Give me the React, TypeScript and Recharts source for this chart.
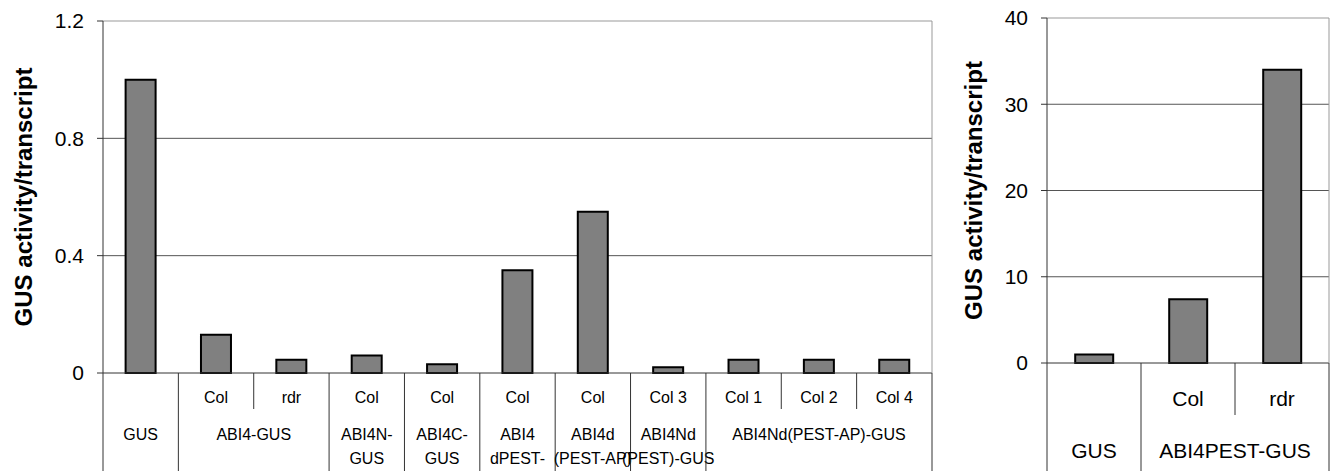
import React from "react";
import { BarChart, Bar, XAxis, YAxis, CartesianGrid, ReferenceLine } from "recharts";

const FONT = "Arial, 'Liberation Sans', sans-serif";

// left panel: GUS fusions in Col / rdr backgrounds
const leftSubLabels = ["", "Col", "rdr", "Col", "Col", "Col", "Col", "Col 3", "Col 1", "Col 2", "Col 4"];
const leftValues = [1.0, 0.13, 0.045, 0.06, 0.03, 0.35, 0.55, 0.02, 0.045, 0.045, 0.045];
const leftGroupLabels = [
    ["GUS"],
    ["ABI4-GUS"],
    ["ABI4N-", "GUS"],
    ["ABI4C-", "GUS"],
    ["ABI4", "dPEST-"],
    ["ABI4d", "(PEST-AP)"],
    ["ABI4Nd", "(PEST)-GUS"],
    ["ABI4Nd(PEST-AP)-GUS"],
];
const leftGroupSizes = [1, 2, 1, 1, 1, 1, 1, 3];
const leftTicks = [0, 0.4, 0.8, 1.2];

// right panel: ABI4PEST-GUS
const rightSubLabels = ["", "Col", "rdr"];
const rightValues = [1, 7.4, 34];
const rightGroupLabels = [["GUS"], ["ABI4PEST-GUS"]];
const rightGroupSizes = [1, 2];
const rightTicks = [0, 10, 20, 30, 40];

const yTitle = "GUS activity/transcript";

const toRows = (subs: string[], values: number[]) =>
    subs.map((sub, i) => ({ key: String(i), sub, value: values[i] }));

interface AxisLayout {
    band: number;
    plotTop: number;
    axisY: number;
    bottom: number;
    subY: number;
    dividerY: number;
    groupY: number;
    lineGap: number;
    fontSize: number;
}

// two-row category axis: sub label on top, group label spanning its members below
function makeCategoryTick(subs: string[], groups: string[][], sizes: number[], L: AxisLayout) {
    const info: { g: number; k: number; n: number }[] = [];
    sizes.forEach((n, g) => {
        for (let k = 0; k < n; k++) info.push({ g, k, n });
    });
    const last = subs.length - 1;
    return (props: any) => {
        const i = props.index ?? props.payload?.index ?? 0;
        const x = props.x;
        const { g, k, n } = info[i];
        const left = x - L.band / 2;
        const right = x + L.band / 2;
        const txt = { fontFamily: FONT, fontSize: L.fontSize, fill: "#000" };
        return (
            <g>
                {subs[i] && (
                    <text x={x} y={L.subY} textAnchor="middle" dominantBaseline="central" style={txt}>
                        {subs[i]}
                    </text>
                )}
                {k < n - 1 && (
                    <line x1={right} x2={right} y1={L.axisY} y2={L.dividerY} stroke="#333" />
                )}
                {k === 0 && <line x1={left} x2={left} y1={L.axisY} y2={L.bottom} stroke="#333" />}
                {k === 0 &&
                    groups[g].map((t, j) => (
                        <text
                            key={j}
                            x={left + (n * L.band) / 2}
                            y={L.groupY + j * L.lineGap}
                            textAnchor="middle"
                            dominantBaseline="central"
                            style={txt}
                        >
                            {t}
                        </text>
                    ))}
                {i === last && (
                    <>
                        <line x1={right} x2={right} y1={L.axisY} y2={L.bottom} stroke="#333" />
                        <line x1={right} x2={right} y1={L.plotTop} y2={L.axisY} stroke="#999" />
                    </>
                )}
            </g>
        );
    };
}

function VerticalTitle({ cx, cy }: { cx: number; cy: number }) {
    return (
        <text
            x={cx}
            y={cy}
            transform={`rotate(-90 ${cx} ${cy})`}
            textAnchor="middle"
            dominantBaseline="central"
            style={{ fontFamily: FONT, fontSize: 24, fontWeight: "bold", fill: "#000" }}
        >
            {yTitle}
        </text>
    );
}

const H = 471;

// left chart geometry
const L_W = 945;
const L_YAXIS = 103;
const L_TOP = 21;
const L_RIGHT = 13;
const L_XAXIS_H = 98;
const leftLayout: AxisLayout = {
    band: (L_W - L_YAXIS - L_RIGHT) / leftValues.length,
    plotTop: L_TOP,
    axisY: H - L_XAXIS_H,
    bottom: H,
    subY: H - L_XAXIS_H + 24,
    dividerY: H - L_XAXIS_H + 36,
    groupY: H - L_XAXIS_H + 61,
    lineGap: 24,
    fontSize: 16,
};

// right chart geometry
const R_W = 386;
const R_YAXIS = 102;
const R_TOP = 18;
const R_RIGHT = 2;
const R_XAXIS_H = 108;
const rightLayout: AxisLayout = {
    band: (R_W - R_YAXIS - R_RIGHT) / rightValues.length,
    plotTop: R_TOP,
    axisY: H - R_XAXIS_H,
    bottom: H,
    subY: H - R_XAXIS_H + 35,
    dividerY: H - R_XAXIS_H + 52,
    groupY: H - R_XAXIS_H + 87,
    lineGap: 24,
    fontSize: 21,
};

const leftTick = makeCategoryTick(leftSubLabels, leftGroupLabels, leftGroupSizes, leftLayout);
const rightTick = makeCategoryTick(rightSubLabels, rightGroupLabels, rightGroupSizes, rightLayout);

export default function App() {
    const leftData = toRows(leftSubLabels, leftValues);
    const rightData = toRows(rightSubLabels, rightValues);
    return (
        <div style={{ position: "absolute", left: 0, top: 0, width: 1331, height: H, background: "#fff" }}>
            <div style={{ position: "absolute", left: 0, top: 0 }}>
                <BarChart
                    width={L_W}
                    height={H}
                    data={leftData}
                    margin={{ top: L_TOP, right: L_RIGHT, bottom: 0, left: 0 }}
                    barCategoryGap="30%"
                >
                    <CartesianGrid vertical={false} horizontalValues={[0.4, 0.8]} stroke="#555" />
                    <ReferenceLine y={1.2} stroke="#999" />
                    <XAxis
                        dataKey="key"
                        height={L_XAXIS_H}
                        interval={0}
                        tickSize={0}
                        tickMargin={0}
                        tickLine={false}
                        axisLine={{ stroke: "#333" }}
                        tick={leftTick}
                    />
                    <YAxis
                        width={L_YAXIS}
                        domain={[0, 1.2]}
                        ticks={leftTicks}
                        interval={0}
                        tickSize={6}
                        tickMargin={13}
                        axisLine={{ stroke: "#333" }}
                        tickLine={{ stroke: "#333" }}
                        tick={{ fontFamily: FONT, fontSize: 21, fill: "#000" }}
                        label={{ content: () => <VerticalTitle cx={23} cy={(L_TOP + H - L_XAXIS_H) / 2} /> }}
                    />
                    <Bar dataKey="value" fill="#808080" stroke="#000" strokeWidth={2} isAnimationActive={false} />
                </BarChart>
            </div>
            <div style={{ position: "absolute", left: L_W, top: 0 }}>
                <BarChart
                    width={R_W}
                    height={H}
                    data={rightData}
                    margin={{ top: R_TOP, right: R_RIGHT, bottom: 0, left: 0 }}
                    barCategoryGap="30%"
                >
                    <CartesianGrid vertical={false} horizontalValues={[10, 20, 30]} stroke="#555" />
                    <ReferenceLine y={40} stroke="#999" />
                    <XAxis
                        dataKey="key"
                        height={R_XAXIS_H}
                        interval={0}
                        tickSize={0}
                        tickMargin={0}
                        tickLine={false}
                        axisLine={{ stroke: "#333" }}
                        tick={rightTick}
                    />
                    <YAxis
                        width={R_YAXIS}
                        domain={[0, 40]}
                        ticks={rightTicks}
                        interval={0}
                        tickSize={6}
                        tickMargin={13}
                        axisLine={{ stroke: "#333" }}
                        tickLine={{ stroke: "#333" }}
                        tick={{ fontFamily: FONT, fontSize: 21, fill: "#000" }}
                        label={{ content: () => <VerticalTitle cx={28} cy={(R_TOP + H - R_XAXIS_H) / 2} /> }}
                    />
                    <Bar dataKey="value" fill="#808080" stroke="#000" strokeWidth={2} isAnimationActive={false} />
                </BarChart>
            </div>
        </div>
    );
}
